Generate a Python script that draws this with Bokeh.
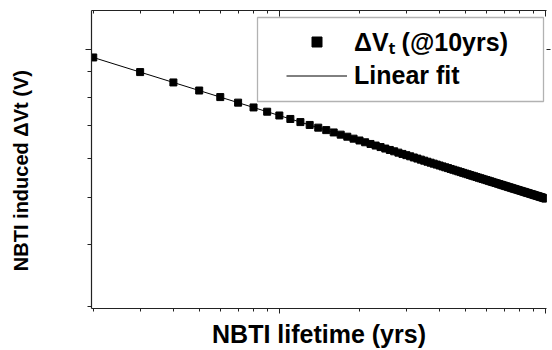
from bokeh.plotting import figure
from bokeh.models import (LogAxis, FixedTicker, Legend, LegendItem, BoxAnnotation, Range1d,
                          CustomJSTickFormatter)
from bokeh.embed import file_html
from bokeh.resources import INLINE

# ---- data ----
lifetime_yrs = [2, 3, 4, 5, 6, 7, 8, 9, 10, 11, 12, 13, 14, 15, 16, 17, 18, 19, 20,
                21, 22, 23, 24, 25, 26, 27, 28, 29, 30, 31, 32, 33, 34, 35, 36, 37, 38, 39, 40,
                41, 42, 43, 44, 45, 46, 47, 48, 49, 50, 51, 52, 53, 54, 55, 56, 57, 58, 59, 60,
                61, 62, 63, 64, 65, 66, 67, 68, 69, 70, 71, 72, 73, 74, 75, 76, 77, 78, 79, 80,
                81, 82, 83, 84, 85, 86, 87, 88, 89, 90, 91, 92, 93, 94, 95, 96, 97, 98, 99, 100]
delta_vt = [0.09630, 0.08992, 0.08566, 0.08248, 0.07998, 0.07793, 0.07619, 0.07469, 0.07337,
            0.07219, 0.07114, 0.07019, 0.06931, 0.06851, 0.06777, 0.06707, 0.06643, 0.06582, 0.06526,
            0.06472, 0.06421, 0.06373, 0.06328, 0.06284, 0.06243, 0.06203, 0.06165, 0.06128, 0.06093,
            0.06060, 0.06027, 0.05996, 0.05966, 0.05937, 0.05908, 0.05881, 0.05855, 0.05829, 0.05804,
            0.05780, 0.05756, 0.05734, 0.05711, 0.05690, 0.05669, 0.05648, 0.05628, 0.05608, 0.05589,
            0.05571, 0.05552, 0.05534, 0.05517, 0.05500, 0.05483, 0.05467, 0.05451, 0.05435, 0.05420,
            0.05405, 0.05390, 0.05375, 0.05361, 0.05347, 0.05333, 0.05320, 0.05306, 0.05293, 0.05280,
            0.05268, 0.05255, 0.05243, 0.05231, 0.05219, 0.05207, 0.05196, 0.05185, 0.05173, 0.05163,
            0.05152, 0.05141, 0.05131, 0.05120, 0.05110, 0.05100, 0.05090, 0.05080, 0.05070, 0.05061,
            0.05051, 0.05042, 0.05033, 0.05024, 0.05015, 0.05006, 0.04997, 0.04988, 0.04980, 0.04971]
fit_x = [2, 100]
fit_y = [0.0963, 0.0497]

x_major = [10, 100]
x_minor = [2, 3, 4, 5, 6, 7, 8, 9, 20, 30, 40, 50, 60, 70, 80, 90]
y_major = [0.1]
y_minor = [0.03, 0.04, 0.05, 0.06, 0.07, 0.08, 0.09]

FONT = "Liberation Sans"
AXIS_COLOR = "#222222"

p = figure(width=552, height=350, x_axis_type="log", y_axis_type="log",
           x_range=Range1d(1.97, 100.8), y_range=Range1d(0.0297, 0.12),
           output_backend="svg", toolbar_location=None,
           min_border_left=91, min_border_right=6, min_border_top=10, min_border_bottom=40)
p.grid.visible = False
p.outline_line_color = None
p.background_fill_color = "white"
p.border_fill_color = "white"

fit = p.line(fit_x, fit_y, line_color="black", line_width=1)
pts = p.scatter(lifetime_yrs, delta_vt, marker="square", size=7,
                fill_color="black", line_color="black")

def style(ax, ticks, minors, tin=0, tout=5, mtin=0, mtout=3, line=True):
    ax.ticker = FixedTicker(ticks=ticks, minor_ticks=minors)
    ax.formatter = CustomJSTickFormatter(code="return ''")
    ax.major_tick_in = tin
    ax.major_tick_out = tout
    ax.minor_tick_in = mtin
    ax.minor_tick_out = mtout
    ax.major_tick_line_color = AXIS_COLOR
    ax.minor_tick_line_color = AXIS_COLOR
    ax.axis_line_color = AXIS_COLOR if line else None
    ax.axis_line_width = 1.2
    ax.major_label_text_font_size = "1px"
    ax.major_label_standoff = 0

xa = p.xaxis[0]
style(xa, x_major, x_minor, tout=5, mtout=3)
xa.axis_label = "NBTI lifetime (yrs)"
xa.axis_label_text_font = FONT
xa.axis_label_text_font_style = "bold"
xa.axis_label_text_font_size = "25px"
xa.axis_label_text_color = "black"
xa.axis_label_standoff = 6

ya = p.yaxis[0]
style(ya, y_major, y_minor, tout=6, mtout=4)
# trailing no-break spaces move the visible title a little below the frame's centre
ya.axis_label = "NBTI induced ΔVt (V)" + "\u00a0" * 4
ya.axis_label_text_font = FONT
ya.axis_label_text_font_style = "bold"
ya.axis_label_text_font_size = "20px"
ya.axis_label_text_color = "black"
ya.axis_label_standoff = 54

top = LogAxis()
style(top, x_major, x_minor, tin=6, tout=0, mtin=3, mtout=0)
p.add_layout(top, "above")

right = LogAxis()
style(right, y_major, [], tin=0, tout=4, mtin=0, mtout=0, line=False)
p.add_layout(right, "right")

box = BoxAnnotation(left=166, right=452, top=291, bottom=207,
                    left_units="screen", right_units="screen",
                    top_units="screen", bottom_units="screen",
                    fill_color="white", fill_alpha=1.0,
                    line_color="black", line_width=1.3)
p.add_layout(box)

legend = Legend(items=[LegendItem(label="ΔVₜ (@10yrs)", renderers=[pts]),
                       LegendItem(label="Linear fit", renderers=[fit])],
                location=(195, 216), orientation="vertical",
                padding=0, spacing=0, margin=0,
                glyph_width=61, glyph_height=25, label_height=34, label_standoff=7,
                label_text_font=FONT, label_text_font_style="bold",
                label_text_font_size="25px", label_text_color="black",
                border_line_color=None, background_fill_alpha=0)
p.add_layout(legend, "center")

open("out.html", "w").write(file_html(p, INLINE))
